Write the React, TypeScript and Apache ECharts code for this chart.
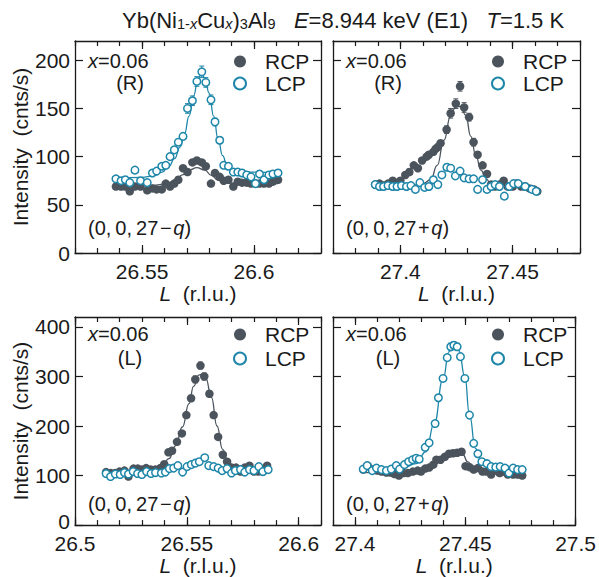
import React, { useEffect, useRef } from "react";
import * as echarts from "echarts";

const FONT = "'Liberation Sans', Arial, Helvetica, sans-serif";
const INK = "#1a1a1a";
const GRAY = "#4b545c";
const TEAL = "#1e86a9";

// ---------- Top-left: x=0.06 (R), (0,0,27-q) ----------
const tlL = [26.5383, 26.5406, 26.5425, 26.5445, 26.5468, 26.5493, 26.5523, 26.5546, 26.5565, 26.5588, 26.5606, 26.5625, 26.5644, 26.5662, 26.5683, 26.5703, 26.5725, 26.5745, 26.5767, 26.5785, 26.5808, 26.5826, 26.5847, 26.5865, 26.5886, 26.5908, 26.5928, 26.5947, 26.5968, 26.5987, 26.6007, 26.6025, 26.6045, 26.6067, 26.6085, 26.6108];
const tlRcp = [69, 69, 69, 64, 69, 69, 65, 67, 66, 66, 72, 69, 72, 76, 88, 84, 94, 96, 94, 90, 72, 83, 79, 75, 76, 69, 74, 73, 73, 72, 72, 72, 72, 72, 74, 76];
const tlLcp = [77, 75, 76, 73, 86, 75, 73, 83, 85, 90, 91, 100, 107, 115, 121, 150, 158, 178, 188, 177, 159, 136, 117, 91, 90, 84, 84, 83, 81, 79, 72, 82, 76, 81, 82, 83];
const tlRcpFit = [[26.5383, 70], [26.55, 70], [26.556, 70.5], [26.561, 72], [26.565, 76], [26.568, 81], [26.571, 86], [26.5745, 88.5], [26.578, 86], [26.581, 80.5], [26.584, 75.5], [26.587, 73], [26.592, 72], [26.6108, 72]];
const tlLcpFit = [[26.5383, 78], [26.55, 78.5], [26.555, 80], [26.559, 84], [26.562, 90], [26.5645, 98], [26.567, 110], [26.569, 124], [26.571, 142], [26.573, 163], [26.575, 180], [26.5765, 186], [26.578, 182], [26.58, 166], [26.582, 142], [26.584, 118], [26.586, 101], [26.588, 91], [26.591, 86], [26.595, 84], [26.6108, 83]];
const tlErr = [[26.5703, 150, 5], [26.5725, 158, 5], [26.5745, 178, 5], [26.5767, 188, 6], [26.5785, 177, 5], [26.5808, 159, 5], [26.5826, 136, 4]];

// ---------- Top-right: x=0.06 (R), (0,0,27+q) ----------
const trRcpL = [27.3888, 27.3907, 27.3925, 27.3945, 27.3966, 27.3985, 27.4, 27.4022, 27.404, 27.406, 27.4078, 27.4097, 27.4117, 27.4127, 27.4147, 27.4157, 27.4167, 27.4179, 27.4206, 27.4224, 27.4247, 27.4266, 27.4284, 27.4306, 27.4326, 27.4344, 27.4366, 27.4386, 27.4404, 27.4422, 27.4441, 27.446, 27.4478, 27.4501, 27.4516, 27.4538, 27.4556, 27.4575, 27.4595, 27.461];
const trRcp = [71, 72, 70, 72, 75, 72, 75, 81, 84, 91, 88, 96, 100, 102, 105, 108, 110, 114, 128, 145, 155, 173, 151, 141, 115, 102, 91, 82, 71, 69, 71, 75, 69, 69, 72, 69, 69, 67, 66, 64];
const trLcpL = [27.3888, 27.3907, 27.3925, 27.3945, 27.3966, 27.3985, 27.4005, 27.4027, 27.4047, 27.4067, 27.4087, 27.4108, 27.4127, 27.4147, 27.4167, 27.4185, 27.4207, 27.4224, 27.4245, 27.4266, 27.4284, 27.4306, 27.4326, 27.4344, 27.4366, 27.4386, 27.4404, 27.4422, 27.4441, 27.4463, 27.4485, 27.4504, 27.4525, 27.4556, 27.4586, 27.4605];
const trLcp = [71, 69, 69, 70, 69, 69, 70, 69, 70, 66, 73, 68, 69, 76, 71, 81, 89, 88, 80, 85, 78, 77, 77, 66, 76, 66, 69, 71, 69, 59, 69, 72, 72, 69, 66, 64];
const trRcpFit = [[27.3888, 69], [27.4, 69.5], [27.406, 70.5], [27.41, 72], [27.4135, 76], [27.4164, 91], [27.4194, 117], [27.4224, 142], [27.4246, 152], [27.4269, 152], [27.4291, 143], [27.4314, 121], [27.4336, 101], [27.4359, 86], [27.4381, 77], [27.4404, 72], [27.4448, 69.5], [27.461, 68]];
const trErr = [[27.4206, 128, 4], [27.4224, 145, 5], [27.4247, 155, 5], [27.4266, 173, 5], [27.4284, 151, 5], [27.4306, 141, 4], [27.4326, 115, 4]];

// ---------- Bottom-left: x=0.06 (L), (0,0,27-q) ----------
const blRcpL = [26.5139, 26.516, 26.5179, 26.5199, 26.5221, 26.5239, 26.5262, 26.5281, 26.5299, 26.5318, 26.5339, 26.5359, 26.5381, 26.5399, 26.5418, 26.5434, 26.5456, 26.5478, 26.5498, 26.5519, 26.5538, 26.5561, 26.5578, 26.5601, 26.562, 26.564, 26.5661, 26.568, 26.57, 26.572, 26.574, 26.5759, 26.578, 26.58, 26.5819, 26.584, 26.5859];
const blRcp = [107, 105, 105, 108, 110, 98, 114, 114, 112, 115, 112, 112, 115, 123, 147, 150, 168, 185, 222, 256, 294, 322, 300, 265, 222, 178, 142, 128, 116, 116, 108, 116, 120, 108, 108, 108, 120];
const blLcpL = [26.5139, 26.5159, 26.518, 26.5202, 26.5221, 26.5239, 26.526, 26.528, 26.5299, 26.532, 26.534, 26.536, 26.5386, 26.5404, 26.5422, 26.5441, 26.546, 26.5481, 26.5501, 26.552, 26.5538, 26.5556, 26.558, 26.5598, 26.562, 26.564, 26.5658, 26.568, 26.57, 26.5717, 26.574, 26.5759, 26.578, 26.58, 26.5822, 26.584, 26.5864];
const blLcp = [104, 98, 103, 102, 106, 103, 108, 104, 102, 108, 104, 106, 105, 107, 114, 115, 120, 107, 118, 122, 125, 128, 136, 120, 118, 115, 110, 114, 105, 110, 112, 107, 112, 110, 118, 108, 112];
const blRcpFit = [[26.5139, 108], [26.525, 109], [26.532, 111], [26.536, 114], [26.539, 120], [26.542, 134], [26.545, 160], [26.548, 198], [26.551, 245], [26.553, 280], [26.5555, 303], [26.557, 305], [26.5585, 296], [26.561, 258], [26.5635, 200], [26.566, 153], [26.5685, 128], [26.571, 117], [26.575, 112], [26.5859, 110]];
const blErr = [[26.5538, 294, 7], [26.5561, 322, 7], [26.5578, 300, 7]];

// ---------- Bottom-right: x=0.06 (L), (0,0,27+q) ----------
const brRcpL = [27.4037, 27.4057, 27.4078, 27.41, 27.412, 27.4142, 27.416, 27.4179, 27.4199, 27.422, 27.4239, 27.4262, 27.4284, 27.4299, 27.4318, 27.4336, 27.4355, 27.4369, 27.4388, 27.4408, 27.4426, 27.4444, 27.4463, 27.4483, 27.4501, 27.4519, 27.4538, 27.4557, 27.4578, 27.4596, 27.4617, 27.4637, 27.4656, 27.4675, 27.4693, 27.4717, 27.4737, 27.4758];
const brRcp = [112, 120, 112, 110, 108, 106, 106, 103, 100, 105, 105, 108, 110, 108, 114, 116, 122, 132, 132, 138, 144, 145, 146, 148, 119, 117, 112, 115, 108, 108, 102, 110, 105, 108, 102, 102, 102, 100];
const brLcpL = [27.4037, 27.4055, 27.4078, 27.4097, 27.412, 27.4142, 27.4164, 27.4187, 27.4202, 27.4224, 27.4243, 27.4261, 27.4277, 27.4291, 27.4318, 27.4336, 27.4363, 27.4378, 27.4399, 27.4418, 27.4434, 27.4448, 27.4463, 27.4478, 27.4498, 27.4519, 27.4538, 27.4557, 27.4575, 27.4598, 27.4617, 27.4638, 27.4658, 27.468, 27.4698, 27.4717, 27.4737, 27.4758];
const brLcp = [113, 120, 110, 115, 112, 110, 113, 120, 113, 122, 128, 132, 135, 133, 157, 166, 205, 257, 296, 338, 360, 363, 360, 340, 296, 222, 165, 144, 128, 124, 118, 117, 118, 115, 105, 115, 112, 112];
const brRcpFit = [[27.4037, 106], [27.425, 107], [27.432, 114], [27.437, 126], [27.441, 138], [27.4445, 145], [27.447, 147], [27.449, 142], [27.451, 128], [27.454, 115], [27.458, 108], [27.4758, 104]];
const brLcpFit = [[27.4037, 112], [27.415, 113], [27.422, 116], [27.4277, 124], [27.4321, 148], [27.4359, 205], [27.4399, 295], [27.4426, 350], [27.4448, 365], [27.4471, 352], [27.4498, 300], [27.4519, 222], [27.4546, 155], [27.4575, 128], [27.4635, 115], [27.4762, 112]];
const brErr = [[27.4434, 360, 7], [27.4448, 363, 7], [27.4463, 360, 7]];

// ---------- axes ----------
const tlMajors = [26.55, 26.6];
const trMajors = [27.4, 27.45];
const blMajors = [26.5, 26.55, 26.6];
const brMajors = [27.4, 27.45, 27.5];
const topYTicks = [0, 50, 100, 150, 200];
const botYTicks = [0, 100, 200, 300, 400];

const zip = (xs: number[], ys: number[]) => xs.map((x, i) => [x, ys[i]]);

type Panel = {
  grid: { left: number; top: number; width: number; height: number };
  xMin: number; xMax: number; majors: number[];
  yMax: number; yTicks: number[]; showY: boolean; nameGap: number; liftZero: boolean;
  rcp: number[][]; lcp: number[][];
  rcpFit: number[][]; lcpFit: number[][] | null;
  err: number[][]; errColor: string;
};

const panels: Panel[] = [
  { grid: { left: 75, top: 41, width: 246, height: 212 }, xMin: 26.52, xMax: 26.63, majors: tlMajors, yMax: 220, yTicks: topYTicks, showY: true, nameGap: 26, liftZero: false,
    rcp: zip(tlL, tlRcp), lcp: zip(tlL, tlLcp), rcpFit: tlRcpFit, lcpFit: tlLcpFit, err: tlErr, errColor: TEAL },
  { grid: { left: 333, top: 41, width: 247, height: 212 }, xMin: 27.37, xMax: 27.48, majors: trMajors, yMax: 220, yTicks: topYTicks, showY: false, nameGap: 26, liftZero: false,
    rcp: zip(trRcpL, trRcp), lcp: zip(trLcpL, trLcp), rcpFit: trRcpFit, lcpFit: null, err: trErr, errColor: GRAY },
  { grid: { left: 75, top: 317, width: 246, height: 211 }, xMin: 26.5, xMax: 26.61, majors: blMajors, yMax: 420, yTicks: botYTicks, showY: true, nameGap: 23, liftZero: true,
    rcp: zip(blRcpL, blRcp), lcp: zip(blLcpL, blLcp), rcpFit: blRcpFit, lcpFit: null, err: blErr, errColor: GRAY },
  { grid: { left: 333, top: 317, width: 247, height: 211 }, xMin: 27.39, xMax: 27.5, majors: brMajors, yMax: 420, yTicks: botYTicks, showY: false, nameGap: 23, liftZero: false,
    rcp: zip(brRcpL, brRcp), lcp: zip(brLcpL, brLcp), rcpFit: brRcpFit, lcpFit: brLcpFit, err: brErr, errColor: TEAL },
];

const lineStyle = { color: INK, width: 1.3 };
const tickStyle = { color: INK, width: 1.2 };
const textBase = { fontFamily: FONT, fontSize: 21, color: INK };
const noteBase = { fontFamily: FONT, fontSize: 20, color: INK };

function buildOption() {
  const xAxis: any[] = [];
  const yAxis: any[] = [];
  const series: any[] = [];
  const legend: any[] = [];

  panels.forEach((p, g) => {
    const base = {
      type: "value", gridIndex: g, min: p.xMin, max: p.xMax,
      splitLine: { show: false },
      axisLine: { show: true, onZero: false, lineStyle },
    };
    xAxis.push({
      ...base, position: "bottom",
      axisTick: { inside: true, length: 8, customValues: p.majors, lineStyle: tickStyle },
      axisLabel: { ...textBase, lineHeight: 19, customValues: p.majors, margin: 9 },
      name: "{i|L}  (r.l.u.)", nameLocation: "middle", nameGap: p.nameGap,
      nameTextStyle: { ...textBase, lineHeight: 20, rich: { i: { ...textBase, fontStyle: "italic", lineHeight: 20 } } },
    });
    xAxis.push({
      ...base, position: "bottom", interval: 0.01,
      axisLine: { show: false, onZero: false },
      axisTick: { inside: true, length: 5, lineStyle: tickStyle },
      axisLabel: { show: false },
    });
    xAxis.push({
      ...base, position: "top",
      axisTick: { inside: true, length: 8, customValues: p.majors, lineStyle: tickStyle },
      axisLabel: { show: false },
    });
    xAxis.push({
      ...base, position: "top", interval: 0.01,
      axisLine: { show: false, onZero: false },
      axisTick: { inside: true, length: 5, lineStyle: tickStyle },
      axisLabel: { show: false },
    });
    const yBase = {
      type: "value", gridIndex: g, min: 0, max: p.yMax,
      splitLine: { show: false },
      axisLine: { show: true, onZero: false, lineStyle },
      axisTick: { inside: true, length: 8, customValues: p.yTicks, lineStyle: tickStyle },
    };
    const lift = p.liftZero;
    yAxis.push({
      ...yBase, position: "left",
      axisLabel: p.showY
        ? {
            ...textBase, lineHeight: 16, customValues: p.yTicks, margin: 5,
            formatter: (v: number) => (lift && v === 0 ? "{z|0}" : String(v)),
            rich: { z: { ...textBase, lineHeight: 16, padding: [0, 0, 7, 0] } },
          }
        : { show: false },
      name: p.showY ? "Intensity  (cnts/s)" : "",
      nameLocation: "middle", nameGap: 43,
      nameTextStyle: textBase,
    });
    yAxis.push({ ...yBase, position: "right", axisLabel: { show: false } });

    const xi = 4 * g;
    const yi = 2 * g;
    series.push({
      type: "line", name: "rcpfit" + g, xAxisIndex: xi, yAxisIndex: yi,
      data: p.rcpFit, showSymbol: false, smooth: 0.5, smoothMonotone: "x",
      lineStyle: { color: GRAY, width: 1.3 }, z: 1, silent: true,
    });
    if (p.lcpFit) {
      series.push({
        type: "line", name: "lcpfit" + g, xAxisIndex: xi, yAxisIndex: yi,
        data: p.lcpFit, showSymbol: false, smooth: 0.5, smoothMonotone: "x",
        lineStyle: { color: TEAL, width: 1.3 }, z: 1, silent: true,
      });
    }
    const ec = p.errColor;
    series.push({
      type: "custom", name: "err" + g, xAxisIndex: xi, yAxisIndex: yi, z: 1,
      data: p.err,
      renderItem: (_params: any, api: any) => {
        const x = api.value(0), y = api.value(1), e = api.value(2);
        const t = api.coord([x, y + e]);
        const b = api.coord([x, y - e]);
        const st = { stroke: ec, lineWidth: 1 };
        return {
          type: "group",
          children: [
            { type: "line", shape: { x1: t[0], y1: t[1], x2: b[0], y2: b[1] }, style: st },
            { type: "line", shape: { x1: t[0] - 2.5, y1: t[1], x2: t[0] + 2.5, y2: t[1] }, style: st },
            { type: "line", shape: { x1: b[0] - 2.5, y1: b[1], x2: b[0] + 2.5, y2: b[1] }, style: st },
          ],
        };
      },
    });
    series.push({
      type: "scatter", name: "RCP", xAxisIndex: xi, yAxisIndex: yi,
      data: p.rcp, symbol: "circle", symbolSize: 8.5,
      itemStyle: { color: GRAY, opacity: 1 }, z: 3,
    });
    series.push({
      type: "scatter", name: "LCP", xAxisIndex: xi, yAxisIndex: yi,
      data: p.lcp, symbol: "circle", symbolSize: 7.5,
      itemStyle: { color: "#ffffff", borderColor: TEAL, borderWidth: 1.5, opacity: 1 }, z: 4,
    });

    const top = g < 2;
    legend.push({
      data: ["RCP", "LCP"], orient: "vertical",
      left: p.grid.left + 158, top: top ? 51 : 324,
      itemWidth: 12, itemHeight: 12, itemGap: top ? 1 : 3,
      padding: 0, selectedMode: false,
      textStyle: { ...textBase, padding: [0, 0, 0, 14] },
    });
  });

  const richI = { i: { ...noteBase, fontStyle: "italic", lineHeight: 17 } };
  const graphics: any[] = [];
  panels.forEach((p, g) => {
    const top = g < 2;
    const lx = p.grid.left + 13;
    const y1 = top ? 61 : 334;
    const y2 = top ? 83 : 358;
    const y3 = top ? 228 : 504;
    graphics.push({
      type: "text", x: lx, y: y1,
      style: { text: "{i|x}=0.06", rich: richI, ...noteBase, lineHeight: 17, fill: INK, verticalAlign: "middle" },
    });
    graphics.push({
      type: "text", x: p.grid.left + 55, y: y2,
      style: { text: top ? "(R)" : "(L)", ...noteBase, lineHeight: 17, fill: INK, align: "center", verticalAlign: "middle" },
    });
    const sign = g % 2 === 0 ? "\u2212" : "+";
    graphics.push({
      type: "text", x: lx, y: y3,
      style: { text: "(0,\u20090,\u200927\u200a" + sign + "\u200a{i|q})", rich: richI, ...noteBase, lineHeight: 17, fill: INK, verticalAlign: "middle" },
    });
  });
  const T = { fontFamily: FONT, fontSize: 22, color: INK };
  const subSt = { fontFamily: FONT, fontSize: 14.5, color: INK, verticalAlign: "bottom", lineHeight: 6 };
  graphics.push({
    type: "text", x: 122, y: 20,
    style: {
      text: "Yb(Ni{s|1-}{si|x}Cu{si|x}){s|3}Al{s|9}   {i|E}=8.944 keV (E1)   {i|T}=1.5 K",
      rich: {
        s: subSt,
        si: { ...subSt, fontStyle: "italic" },
        i: { ...T, fontStyle: "italic", lineHeight: 22 },
      },
      ...T, lineHeight: 22, fill: INK, verticalAlign: "middle",
    },
  });

  return {
    animation: false,
    backgroundColor: "#ffffff",
    grid: panels.map((p) => ({ ...p.grid, show: false })),
    xAxis, yAxis, series, legend,
    graphic: graphics,
  };
}

export default function App() {
  const ref = useRef<HTMLDivElement>(null);
  useEffect(() => {
    if (!ref.current) return;
    const chart = echarts.init(ref.current, null, { renderer: "svg" });
    chart.setOption(buildOption() as any);
    return () => chart.dispose();
  }, []);
  return <div ref={ref} style={{ position: "fixed", left: 0, top: 0, width: 599, height: 577, background: "#fff" }} />;
}
